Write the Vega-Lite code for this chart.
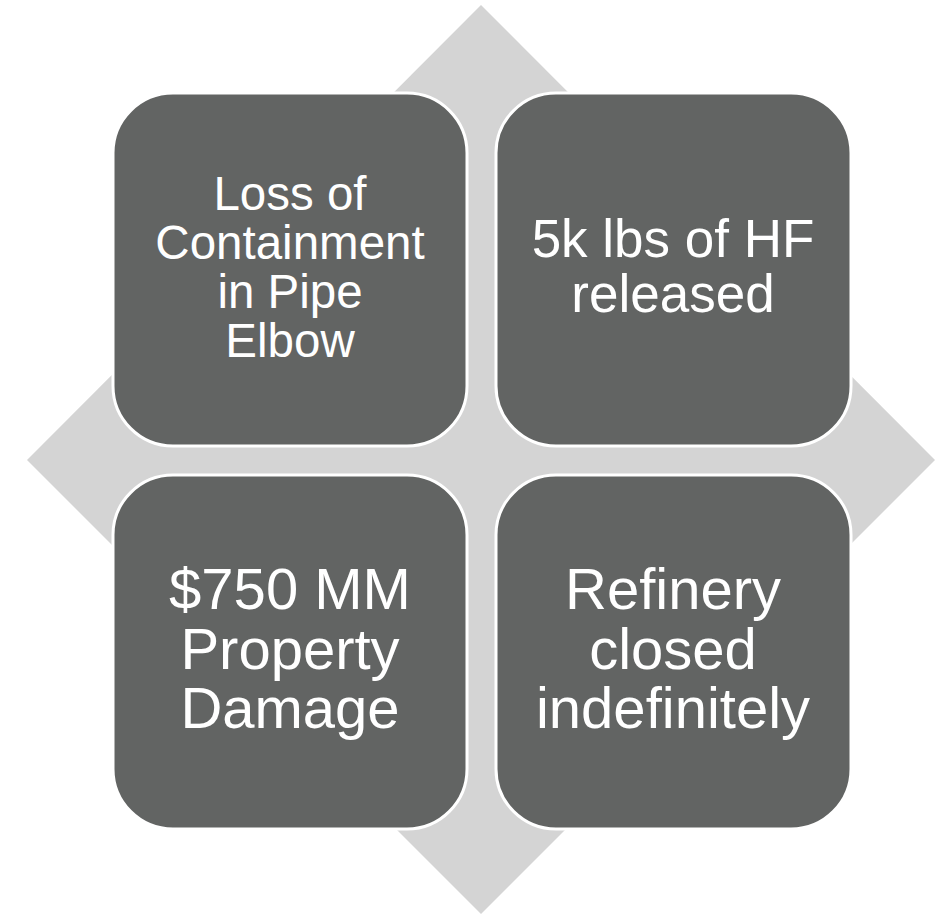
{
  "$schema": "https://vega.github.io/schema/vega-lite/v6.json",
  "width": 935,
  "height": 914,
  "autosize": {"type": "fit", "contains": "padding"},
  "padding": 0,
  "background": "white",
  "config": {"view": {"stroke": null}},
  "datasets": {
    "diamond": [
      {"x": 27, "top": 460, "bottom": 460},
      {"x": 481, "top": 5, "bottom": 914},
      {"x": 935, "top": 460, "bottom": 460}
    ],
    "boxes": [
      {"id": "tl", "x1": 113, "x2": 467, "y1": 93, "y2": 446, "cx": 290, "ty": 210, "label": "Loss of\nContainment\nin Pipe\nElbow"},
      {"id": "tr", "x1": 496, "x2": 851, "y1": 93, "y2": 446, "cx": 673, "ty": 257, "label": "5k lbs of HF\nreleased"},
      {"id": "bl", "x1": 113, "x2": 467, "y1": 475, "y2": 829, "cx": 290, "ty": 609, "label": "$750 MM\nProperty\nDamage"},
      {"id": "br", "x1": 496, "x2": 851, "y1": 475, "y2": 829, "cx": 673, "ty": 609, "label": "Refinery\nclosed\nindefinitely"}
    ]
  },
  "layer": [
    {
      "data": {"name": "diamond"},
      "mark": {"type": "area", "color": "#d4d4d4", "orient": "vertical"},
      "encoding": {
        "x": {"field": "x", "type": "quantitative", "scale": {"domain": [0, 935], "nice": false, "zero": false}, "axis": null},
        "y": {"field": "top", "type": "quantitative", "scale": {"domain": [0, 914], "nice": false, "zero": false, "reverse": true}, "axis": null},
        "y2": {"field": "bottom"}
      }
    },
    {
      "data": {"name": "boxes"},
      "mark": {"type": "rect", "fill": "#626463", "stroke": "white", "strokeWidth": 3, "cornerRadius": 60},
      "encoding": {
        "x": {"field": "x1", "type": "quantitative"},
        "x2": {"field": "x2"},
        "y": {"field": "y1", "type": "quantitative"},
        "y2": {"field": "y2"}
      }
    },
    {
      "data": {"name": "boxes"},
      "transform": [{"filter": "datum.id === 'tl'"}],
      "mark": {"type": "text", "color": "white", "font": "Liberation Sans", "fontSize": 47.5, "lineHeight": 49, "lineBreak": "\n", "align": "center", "baseline": "alphabetic"},
      "encoding": {
        "x": {"field": "cx", "type": "quantitative"},
        "y": {"field": "ty", "type": "quantitative"},
        "text": {"field": "label"}
      }
    },
    {
      "data": {"name": "boxes"},
      "transform": [{"filter": "datum.id === 'tr'"}],
      "mark": {"type": "text", "color": "white", "font": "Liberation Sans", "fontSize": 53, "lineHeight": 55, "lineBreak": "\n", "align": "center", "baseline": "alphabetic"},
      "encoding": {
        "x": {"field": "cx", "type": "quantitative"},
        "y": {"field": "ty", "type": "quantitative"},
        "text": {"field": "label"}
      }
    },
    {
      "data": {"name": "boxes"},
      "transform": [{"filter": "datum.id === 'bl' || datum.id === 'br'"}],
      "mark": {"type": "text", "color": "white", "font": "Liberation Sans", "fontSize": 58, "lineHeight": 59.5, "lineBreak": "\n", "align": "center", "baseline": "alphabetic"},
      "encoding": {
        "x": {"field": "cx", "type": "quantitative"},
        "y": {"field": "ty", "type": "quantitative"},
        "text": {"field": "label"}
      }
    }
  ]
}
